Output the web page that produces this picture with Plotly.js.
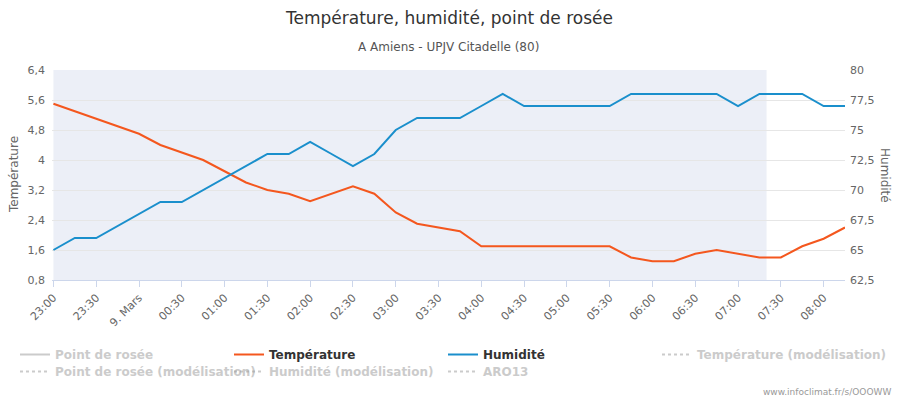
<!DOCTYPE html>
<html>
<head>
<meta charset="utf-8">
<script src="https://cdn.plot.ly/plotly-3.0.1.min.js"></script>
<style>html,body{margin:0;padding:0;background:#fff;}#chart{width:900px;height:400px;}</style>
</head>
<body>
<div id="chart"></div>
<script>
// ---- data ----
const times = [
  "2023-03-08 23:00","2023-03-08 23:15","2023-03-08 23:30","2023-03-08 23:45",
  "2023-03-09 00:00","2023-03-09 00:15","2023-03-09 00:30","2023-03-09 00:45",
  "2023-03-09 01:00","2023-03-09 01:15","2023-03-09 01:30","2023-03-09 01:45",
  "2023-03-09 02:00","2023-03-09 02:15","2023-03-09 02:30","2023-03-09 02:45",
  "2023-03-09 03:00","2023-03-09 03:15","2023-03-09 03:30","2023-03-09 03:45",
  "2023-03-09 04:00","2023-03-09 04:15","2023-03-09 04:30","2023-03-09 04:45",
  "2023-03-09 05:00","2023-03-09 05:15","2023-03-09 05:30","2023-03-09 05:45",
  "2023-03-09 06:00","2023-03-09 06:15","2023-03-09 06:30","2023-03-09 06:45",
  "2023-03-09 07:00","2023-03-09 07:15","2023-03-09 07:30","2023-03-09 07:45",
  "2023-03-09 08:00","2023-03-09 08:15"
];
const temperature = [
  5.5,5.3,5.1,4.9, 4.7,4.4,4.2,4.0, 3.7,3.4,3.2,3.1, 2.9,3.1,3.3,3.1,
  2.6,2.3,2.2,2.1, 1.7,1.7,1.7,1.7, 1.7,1.7,1.7,1.4, 1.3,1.3,1.5,1.6,
  1.5,1.4,1.4,1.7, 1.9,2.2
];
const humidity = [
  65,66,66,67, 68,69,69,70, 71,72,73,73, 74,73,72,73,
  75,76,76,76, 77,78,77,77, 77,77,77,78, 78,78,78,78,
  77,78,78,78, 77,77
];
const xTickVals = [
  "2023-03-08 23:00","2023-03-08 23:30","2023-03-09 00:00","2023-03-09 00:30",
  "2023-03-09 01:00","2023-03-09 01:30","2023-03-09 02:00","2023-03-09 02:30",
  "2023-03-09 03:00","2023-03-09 03:30","2023-03-09 04:00","2023-03-09 04:30",
  "2023-03-09 05:00","2023-03-09 05:30","2023-03-09 06:00","2023-03-09 06:30",
  "2023-03-09 07:00","2023-03-09 07:30","2023-03-09 08:00"
];
const xTickText = ["23:00","23:30","9. Mars","00:30","01:00","01:30","02:00","02:30",
  "03:00","03:30","04:00","04:30","05:00","05:30","06:00","06:30","07:00","07:30","08:00"];
const tempTickVals = [0.8,1.6,2.4,3.2,4,4.8,5.6,6.4];
const tempTickText = ["0,8","1,6","2,4","3,2","4","4,8","5,6","6,4"];
const humTickVals = [62.5,65,67.5,70,72.5,75,77.5,80];
const humTickText = ["62,5","65","67,5","70","72,5","75","77,5","80"];
const observedStart = "2023-03-08 23:00";
const observedEnd = "2023-03-09 07:20";

const tickFont = {family: "DejaVu Sans, sans-serif", size: 11, color: "#666666"};
const hiddenLine = (name, dash, legend) => ({
  x: [null], y: [null], type: "scatter", mode: "lines", legend: legend,
  name: '<span style="color:#999999">' + name + '</span>',
  visible: "legendonly", line: {color: "#999999", width: 2, dash: dash}
});

const traces = [
  hiddenLine("Point de rosée", "solid", "legend"),
  {x: times, y: temperature, type: "scatter", mode: "lines", name: "Température",
   line: {color: "#f4571e", width: 2}, yaxis: "y", legend: "legend2"},
  {x: times, y: humidity, type: "scatter", mode: "lines", name: "Humidité",
   line: {color: "#1a8fcc", width: 2}, yaxis: "y2", legend: "legend3"},
  hiddenLine("Température (modélisation)", "dot", "legend4"),
  hiddenLine("Point de rosée (modélisation)", "dot", "legend5"),
  hiddenLine("Humidité (modélisation)", "dot", "legend6"),
  hiddenLine("ARO13", "dot", "legend7")
];

const legendFont = {family: "DejaVu Sans, sans-serif", size: 12, color: "#333333", weight: "bold"};
const legendAt = (xpx, ytop) => ({
  xref: "container", yref: "container", x: xpx / 900, xanchor: "left",
  y: ytop, yanchor: "top", font: legendFont, itemwidth: 30,
  bgcolor: "rgba(0,0,0,0)", orientation: "v"
});
const row1 = 0.15, row2 = 0.15 - 17 / 400;

const layout = {
  width: 900, height: 400,
  margin: {l: 52, r: 55, t: 70, b: 120, autoexpand: false},
  paper_bgcolor: "#ffffff", plot_bgcolor: "#ffffff",
  font: {family: "DejaVu Sans, sans-serif", color: "#333333"},
  showlegend: true,
  xaxis: {
    type: "date",
    range: ["2023-03-08 22:59", "2023-03-09 08:15"],
    tickvals: xTickVals, ticktext: xTickText,
    tickangle: -45, tickfont: tickFont,
    showgrid: false, zeroline: false,
    showline: true, linecolor: "#ccd6eb", linewidth: 1,
    ticks: "outside", ticklen: 6, tickcolor: "#ccd6eb"
  },
  yaxis: {
    range: [0.8, 6.4], tickvals: tempTickVals, ticktext: tempTickText,
    tickfont: tickFont, showgrid: true, gridcolor: "#e6e6e6", gridwidth: 1,
    zeroline: false, showline: false, ticks: "", ticklabelstandoff: 6
  },
  yaxis2: {
    overlaying: "y", side: "right",
    range: [62.5, 80], tickvals: humTickVals, ticktext: humTickText,
    tickfont: tickFont, showgrid: false, zeroline: false, showline: false,
    ticks: "", ticklabelstandoff: 4
  },
  shapes: [{
    type: "rect", xref: "x", yref: "paper", layer: "below",
    x0: observedStart, x1: observedEnd, y0: 0, y1: 1,
    fillcolor: "#eceff7", line: {width: 0}
  }],
  legend: legendAt(15, row1),
  legend2: legendAt(229, row1),
  legend3: legendAt(443, row1),
  legend4: legendAt(657, row1),
  legend5: legendAt(15, row2),
  legend6: legendAt(229, row2),
  legend7: legendAt(443, row2),
  annotations: [
    {text: "Température, humidité, point de rosée", xref: "paper", yref: "paper",
     x: 0.5, y: 1, xanchor: "center", yanchor: "middle", yshift: 52, showarrow: false,
     font: {family: "DejaVu Sans, sans-serif", size: 17, color: "#333333"}},
    {text: "A Amiens - UPJV Citadelle (80)", showarrow: false, xref: "paper", yref: "paper",
     x: 0.5, y: 1, xanchor: "center", yanchor: "middle", yshift: 23,
     font: {family: "DejaVu Sans, sans-serif", size: 12, color: "#555555"}},
    {text: "Température", textangle: -90, showarrow: false, xref: "paper", yref: "paper",
     x: 0, y: 0.5, xanchor: "center", yanchor: "middle", xshift: -38,
     font: {family: "DejaVu Sans, sans-serif", size: 12, color: "#666666"}},
    {text: "Humidité", textangle: 90, showarrow: false, xref: "paper", yref: "paper",
     x: 1, y: 0.5, xanchor: "center", yanchor: "middle", xshift: 40,
     font: {family: "DejaVu Sans, sans-serif", size: 12, color: "#666666"}},
    {text: "www.infoclimat.fr/s/OOOWW", showarrow: false, xref: "paper", yref: "paper",
     x: 1, y: 0, xanchor: "right", yanchor: "middle", xshift: 48, yshift: -112,
     font: {family: "DejaVu Sans, sans-serif", size: 9, color: "#999999"}}
  ]
};

Plotly.newPlot("chart", traces, layout, {displayModeBar: false, staticPlot: true});
</script>
</body>
</html>
